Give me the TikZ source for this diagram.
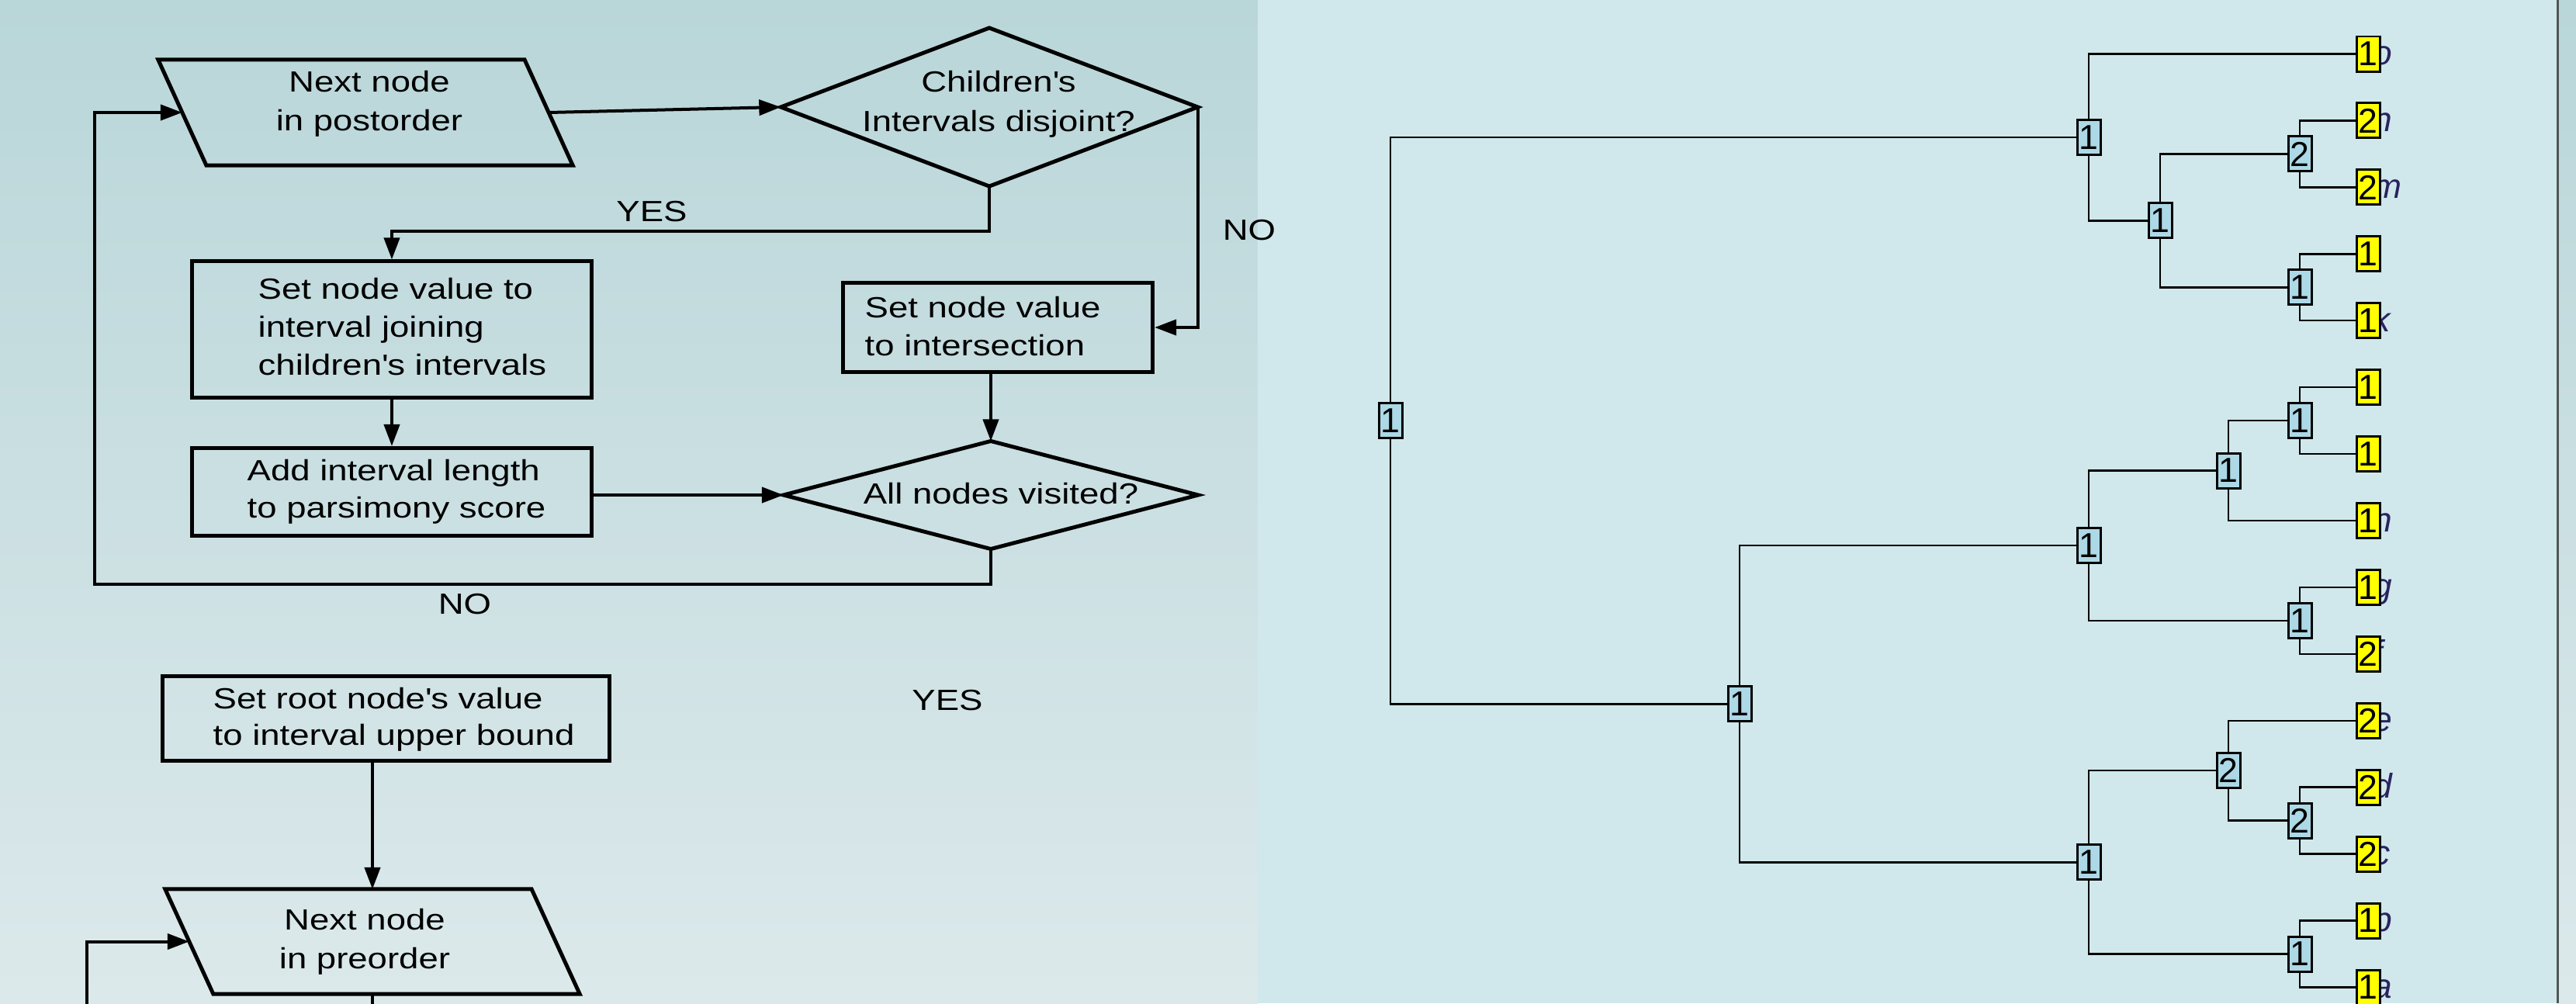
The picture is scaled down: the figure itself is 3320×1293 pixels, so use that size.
\documentclass[tikz,border=0pt]{standalone}
\usepackage{fontspec}
\setmainfont[FakeStretch=1.21]{Liberation Sans}
\newfontfamily\valuefont{Liberation Sans}
\newfontfamily\tipfont{Liberation Sans}
\usetikzlibrary{arrows.meta,calc}
\pgfdeclarelayer{backdrop}
\pgfdeclarelayer{links}
\pgfsetlayers{backdrop,links,main}

\definecolor{panelTop}{HTML}{B9D6D9}
\definecolor{panelBot}{HTML}{DCE9EB}
\definecolor{treeBg}{HTML}{D0E8EB}
\definecolor{edgeGray}{HTML}{4F5757}
\definecolor{innerFill}{HTML}{ADD8E6}
\definecolor{leafFill}{HTML}{FFFF00}
\definecolor{tagInk}{HTML}{2A2360}

\tikzset{
  flowtext/.style={font=\fontsize{10.7}{13.66}\selectfont, inner sep=0pt},
  rowgap/.style={font=\fontsize{10.7}{#1}\selectfont},
  steptext/.style={flowtext, align=left, anchor=north west},
  midtext/.style={flowtext, align=center, anchor=north},
  boxshape/.style={draw, line width=1.42pt, rectangle, inner sep=0pt},
  frame/.style={rectangle, inner sep=0pt, outer sep=0pt},
  outline/.style={line width=1.42pt, line join=miter},
  flow/.style={line width=1.14pt, -{Triangle[length=0.28cm,width=0.2cm]}},
  plainflow/.style={line width=1.14pt},
  answer/.style={flowtext},
  valnode/.style={draw, line width=0.85pt, fill=innerFill, minimum width=0.30cm,
    minimum height=0.45cm, inner sep=0pt, font=\valuefont\fontsize{12.7}{12.7}\selectfont},
  leafnode/.style={valnode, fill=leafFill},
  tipname/.style={anchor=base west, inner sep=0pt, text=tagInk,
    font=\tipfont\itshape\fontsize{12.6}{12.6}\selectfont},
  treeedge/.style={line width=0.71pt},
}

\begin{document}
\begin{tikzpicture}[x=0.01cm, y=-0.01cm]
\useasboundingbox (0,0) rectangle (3320,1293);
\clip (0,0) rectangle (3320,1293);

% panels
\begin{pgfonlayer}{backdrop}
  \shade[top color=panelTop, bottom color=panelBot] (0,0) rectangle (1621,1293);
  \fill[treeBg] (1621,0) rectangle (3295,1293);
  \fill[edgeGray] (3295,0) rectangle (3298,1293);
  \shade[top color=panelTop, bottom color=panelBot] (3298,0) rectangle (3320,1293);
\end{pgfonlayer}

% ---------------- flowchart ----------------
% shapes (parallelograms and diamonds are drawn around invisible frames)
\node[frame, minimum width=4.72cm, minimum height=1.36cm] (post) at (471,145) {};
\draw[outline] ($(post.north west)+(-31,0)$) -- ($(post.north east)+(-31,0)$)
  -- ($(post.south east)+(31,0)$) -- ($(post.south west)+(31,0)$) -- cycle;

\node[frame, minimum width=5.37cm, minimum height=2.04cm] (dis) at (1275,138) {};
\draw[outline] (dis.north) -- (dis.east) -- (dis.south) -- (dis.west) -- cycle;

\node[boxshape, minimum width=5.14cm, minimum height=1.75cm] (join) at (505,424.5) {};
\node[boxshape, minimum width=3.99cm, minimum height=1.15cm] (inter) at (1286,422) {};
\node[boxshape, minimum width=5.15cm, minimum height=1.13cm] (add) at (505,634) {};

\node[frame, minimum width=5.34cm, minimum height=1.39cm] (vis) at (1277,638) {};
\draw[outline] (vis.north) -- (vis.east) -- (vis.south) -- (vis.west) -- cycle;

\node[boxshape, minimum width=5.76cm, minimum height=1.09cm] (rootstep) at (497.5,926) {};

\node[frame, minimum width=4.72cm, minimum height=1.35cm] (pre) at (480,1213.5) {};
\draw[outline] ($(pre.north west)+(-31,0)$) -- ($(pre.north east)+(-31,0)$)
  -- ($(pre.south east)+(31,0)$) -- ($(pre.south west)+(31,0)$) -- cycle;

% texts
\node[midtext, rowgap=14.2pt] (postText) at (476,91) {Next node\\in postorder};
\node[midtext, rowgap=14.4pt] (disText) at (1287,91) {Children\textquotesingle s\\Intervals disjoint?};
\node[steptext, rowgap=13.8pt] (joinText) at (332,358)
  {Set node value to\\interval joining\\children\textquotesingle s intervals};
\node[steptext] (interText) at (1114,382) {Set node value\\to intersection};
\node[steptext, rowgap=13.4pt] (addText) at (318,592) {Add interval length\\to parsimony score};
\node[midtext] (visText) at (1290,622) {All nodes visited?};
\node[steptext, rowgap=13.3pt] (rootText) at (274,886) {Set root node\textquotesingle s value\\to interval upper bound};
\node[midtext, rowgap=14.2pt] (preText) at (470,1171) {Next node\\in preorder};

% connectors
\draw[flow] (post.east) -- (dis.west);
\draw[flow] (dis.south) -- ++(0,58) -| (join.north);
\draw[flow] (dis.east) |- (inter.east);
\draw[flow] (join.south) -- (add.north);
\draw[flow] (inter.south -| vis.north) -- (vis.north);
\draw[flow] (add.east |- vis.west) -- (vis.west);
\coordinate (loopcorner) at (122,753);
\draw[flow] (vis.south) |- (loopcorner) |- (post.west);
\draw[flow] (rootstep.south -| pre.north) -- (pre.north);
\coordinate (prefeed) at (112,1340);
\draw[flow] (prefeed) |- (pre.west);
\coordinate (preexit) at (480,1340);
\draw[plainflow] (pre.south) -- (preexit);

% answers
\node[answer] (yesA) at (840,273) {YES};
\node[answer] (noA) at (1610,297) {NO};
\node[answer] (noB) at (599,779) {NO};
\node[answer] (yesB) at (1221,903) {YES};

% ---------------- tree ----------------
% inner nodes
\node[valnode] (tr) at (1792,542.1) {1};
\node[valnode] (tm) at (2242,907.3) {1};
\node[valnode] (ta) at (2692,176.9) {1};
\node[valnode] (tg) at (2692,703.2) {1};
\node[valnode] (tk) at (2692,1111.4) {1};
\node[valnode] (tb) at (2784,284.3) {1};
\node[valnode] (tf) at (2872,606.6) {1};
\node[valnode] (ti) at (2872,993.2) {2};
\node[valnode] (tc) at (2964,198.4) {2};
\node[valnode] (td) at (2964,370.3) {1};
\node[valnode] (te) at (2964,542.1) {1};
\node[valnode] (th) at (2964,799.9) {1};
\node[valnode] (tj) at (2964,1057.7) {2};
\node[valnode] (tl) at (2964,1229.6) {1};

% leaves
\node[leafnode] (lo) at (3052,69.5) {1};
\node[leafnode] (ln) at (3052,155.4) {2};
\node[leafnode] (lm) at (3052,241.4) {2};
\node[leafnode] (ll) at (3052,327.3) {1};
\node[leafnode] (lk) at (3052,413.2) {1};
\node[leafnode] (lj) at (3052,499.2) {1};
\node[leafnode] (li) at (3052,585.1) {1};
\node[leafnode] (lh) at (3052,671.0) {1};
\node[leafnode] (lg) at (3052,756.9) {1};
\node[leafnode] (lf) at (3052,842.9) {2};
\node[leafnode] (le) at (3052,928.8) {2};
\node[leafnode] (ld) at (3052,1014.7) {2};
\node[leafnode] (lc) at (3052,1100.7) {2};
\node[leafnode] (lb) at (3052,1186.6) {1};
\node[leafnode] (la) at (3052,1272.5) {1};

\begin{pgfonlayer}{links}
  % leaf names, partly tucked under the leaf boxes
  \node[tipname] (xo) at (3058,83.5) {o};
  \node[tipname] (xn) at (3058,169.4) {n};
  \node[tipname] (xm) at (3058,255.4) {m};
  \node[tipname] (xl) at (3058,341.3) {l};
  \node[tipname] (xk) at (3058,427.2) {k};
  \node[tipname] (xj) at (3058,513.2) {j};
  \node[tipname] (xi) at (3058,599.1) {i};
  \node[tipname] (xh) at (3058,685.0) {h};
  \node[tipname] (xg) at (3058,770.9) {g};
  \node[tipname] (xf) at (3058,856.9) {f};
  \node[tipname] (xe) at (3058,942.8) {e};
  \node[tipname] (xd) at (3058,1028.7) {d};
  \node[tipname] (xc) at (3058,1114.7) {c};
  \node[tipname] (xb) at (3058,1200.6) {b};
  \node[tipname] (xa) at (3058,1286.5) {a};

  % branches
  \draw[treeedge] (tr.center) |- (ta.west);
  \draw[treeedge] (tr.center) |- (tm.west);
  \draw[treeedge] (ta.center) |- (lo.west);
  \draw[treeedge] (ta.center) |- (tb.west);
  \draw[treeedge] (tb.center) |- (tc.west);
  \draw[treeedge] (tb.center) |- (td.west);
  \draw[treeedge] (tc.center) |- (ln.west);
  \draw[treeedge] (tc.center) |- (lm.west);
  \draw[treeedge] (td.center) |- (ll.west);
  \draw[treeedge] (td.center) |- (lk.west);
  \draw[treeedge] (tm.center) |- (tg.west);
  \draw[treeedge] (tm.center) |- (tk.west);
  \draw[treeedge] (tg.center) |- (tf.west);
  \draw[treeedge] (tg.center) |- (th.west);
  \draw[treeedge] (tf.center) |- (te.west);
  \draw[treeedge] (tf.center) |- (lh.west);
  \draw[treeedge] (te.center) |- (lj.west);
  \draw[treeedge] (te.center) |- (li.west);
  \draw[treeedge] (th.center) |- (lg.west);
  \draw[treeedge] (th.center) |- (lf.west);
  \draw[treeedge] (tk.center) |- (ti.west);
  \draw[treeedge] (tk.center) |- (tl.west);
  \draw[treeedge] (ti.center) |- (le.west);
  \draw[treeedge] (ti.center) |- (tj.west);
  \draw[treeedge] (tj.center) |- (ld.west);
  \draw[treeedge] (tj.center) |- (lc.west);
  \draw[treeedge] (tl.center) |- (lb.west);
  \draw[treeedge] (tl.center) |- (la.west);
\end{pgfonlayer}
\end{tikzpicture}
\end{document}
